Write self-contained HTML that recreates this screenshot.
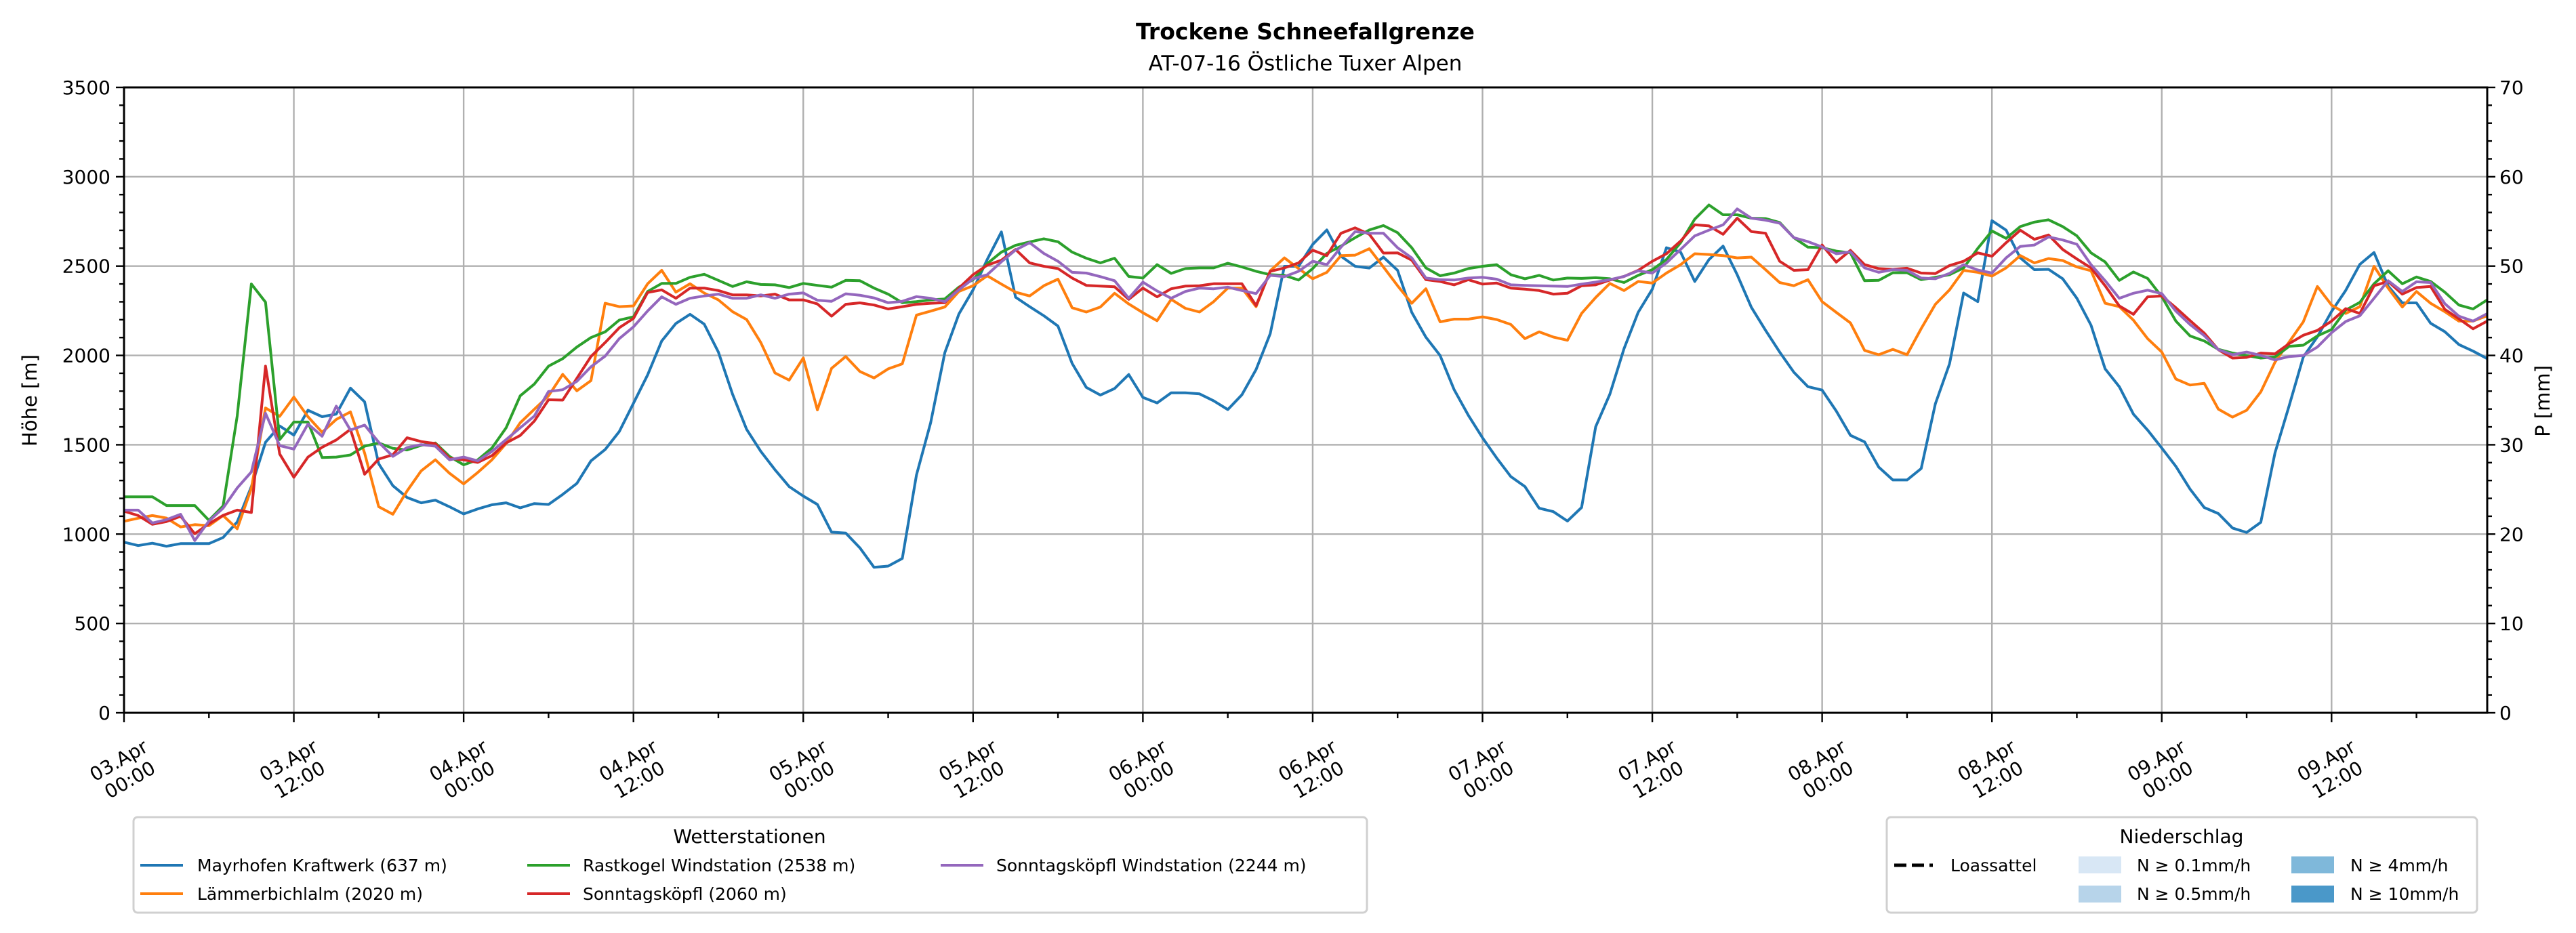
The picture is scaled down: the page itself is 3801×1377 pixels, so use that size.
<!DOCTYPE html>
<html><head><meta charset="utf-8">
<style>
html,body{margin:0;padding:0;background:#fff;}
svg{display:block;font-family:"DejaVu Sans","Liberation Sans",sans-serif;}
</style></head>
<body>
<svg id="chart" width="3801" height="1377" viewBox="0 0 3801 1377" xmlns="http://www.w3.org/2000/svg">
<rect x="0" y="0" width="3801" height="1377" fill="#fff"/>
<text x="1926" y="58" text-anchor="middle" font-size="33" font-weight="bold">Trockene Schneefallgrenze</text>
<text x="1926" y="104" text-anchor="middle" font-size="31">AT-07-16 Östliche Tuxer Alpen</text>
<g id="grid"></g>
<g id="series"></g>
<g id="axes"></g>
<text transform="translate(54,591) rotate(-90)" text-anchor="middle" font-size="29">Höhe [m]</text>
<text transform="translate(3762,592) rotate(-90)" text-anchor="middle" font-size="29">P [mm]</text>

<g>
<rect x="197" y="1206" width="1820" height="141" rx="6" fill="#fff" stroke="#d0d0d0" stroke-width="3"/>
<text x="1106" y="1244" text-anchor="middle" font-size="28">Wetterstationen</text>
<g><line x1="207" y1="1277" x2="270" y2="1277" stroke="#1f77b4" stroke-width="4"/><text x="291" y="1286" font-size="25">Mayrhofen Kraftwerk (637 m)</text></g>
<g><line x1="207" y1="1319" x2="270" y2="1319" stroke="#ff7f0e" stroke-width="4"/><text x="291" y="1328" font-size="25">Lämmerbichlalm (2020 m)</text></g>
<g><line x1="778" y1="1277" x2="841" y2="1277" stroke="#2ca02c" stroke-width="4"/><text x="860" y="1286" font-size="25">Rastkogel Windstation (2538 m)</text></g>
<g><line x1="778" y1="1319" x2="841" y2="1319" stroke="#d62728" stroke-width="4"/><text x="860" y="1328" font-size="25">Sonntagsköpfl (2060 m)</text></g>
<g><line x1="1388" y1="1277" x2="1451" y2="1277" stroke="#9467bd" stroke-width="4"/><text x="1470" y="1286" font-size="25">Sonntagsköpfl Windstation (2244 m)</text></g>
</g>

<g>
<rect x="2784" y="1206" width="871" height="141" rx="6" fill="#fff" stroke="#d0d0d0" stroke-width="3"/>
<text x="3219" y="1244" text-anchor="middle" font-size="28">Niederschlag</text>
<g><line x1="2795" y1="1277" x2="2852" y2="1277" stroke="#000" stroke-width="5" stroke-dasharray="18,8"/><text x="2878" y="1286" font-size="25">Loassattel</text></g>
<g><rect x="3067" y="1264" width="63" height="25" fill="#d8e7f5"/><text x="3153" y="1286" font-size="25">N ≥ 0.1mm/h</text></g>
<g><rect x="3067" y="1307" width="63" height="25" fill="#b7d4ea"/><text x="3153" y="1328" font-size="25">N ≥ 0.5mm/h</text></g>
<g><rect x="3381" y="1264" width="63" height="25" fill="#7fb8da"/><text x="3468" y="1286" font-size="25">N ≥ 4mm/h</text></g>
<g><rect x="3381" y="1307" width="63" height="25" fill="#4a98c9"/><text x="3468" y="1328" font-size="25">N ≥ 10mm/h</text></g>
</g>
</svg>
<script>
const xTickLabels = ["03.Apr|00:00","03.Apr|12:00","04.Apr|00:00","04.Apr|12:00","05.Apr|00:00","05.Apr|12:00","06.Apr|00:00","06.Apr|12:00","07.Apr|00:00","07.Apr|12:00","08.Apr|00:00","08.Apr|12:00","09.Apr|00:00","09.Apr|12:00"];
const yTicks = [0,500,1000,1500,2000,2500,3000,3500];
const pTicks = [0,10,20,30,40,50,60,70];
const mayrhofen = [955,936,949,932,947,947,947,981,1068,1266,1514,1605,1554,1693,1657,1672,1817,1740,1394,1271,1205,1175,1190,1153,1113,1141,1164,1175,1147,
1171,1166,1222,1284,1410,1473,1574,1732,1891,2081,2179,2230,2175,2019,1783,1586,1463,1360,1266,1213,1166,1011,1006,923,814,821,864,
1331,1623,2015,2232,2367,2537,2691,2326,2273,2222,2164,1955,1821,1778,1815,1893,1765,1734,1791,1791,1785,1746,1697,1780,1921,2122,2499,2499,
2621,2702,2555,2499,2489,2550,2476,2241,2102,2000,1808,1665,1539,1426,1322,1266,1145,1126,1073,1149,1601,1783,2038,2241,2371,2603,2578,2414,
2536,2612,2452,2269,2141,2019,1906,1825,1806,1689,1553,1516,1375,1303,1303,1367,1729,1953,2349,2301,2754,2701,2546,2480,2482,2429,2320,2169,
1925,1825,1671,1582,1482,1379,1252,1149,1115,1034,1009,1066,1454,1718,1991,2104,2246,2364,2510,2576,2388,2294,2294,2180,2133,2061,2024,1982];
const laemmerbichl = [1072,1089,1104,1090,1040,1053,1047,1104,1030,1256,1706,1659,1767,1657,1570,1642,1684,1454,1153,1111,1241,1354,1416,1341,1281,1345,1416,1507,1623,
1699,1774,1894,1802,1859,2292,2273,2277,2401,2476,2354,2401,2349,2311,2245,2201,2072,1902,1862,1986,1695,1928,1994,1910,1874,1925,1953,
2226,2248,2271,2358,2390,2446,2399,2354,2333,2390,2427,2267,2243,2271,2348,2288,2239,2194,2314,2264,2243,2301,2377,2377,2273,2474,2546,2486,
2429,2465,2559,2561,2597,2495,2390,2292,2373,2188,2203,2203,2216,2201,2173,2094,2132,2103,2085,2235,2324,2403,2363,2414,2405,2461,2508,2569,
2565,2559,2546,2550,2480,2408,2390,2424,2301,2241,2182,2028,2004,2034,2004,2150,2286,2367,2476,2465,2444,2490,2559,2518,2542,2531,2495,2474,
2292,2273,2197,2094,2019,1868,1834,1844,1699,1655,1693,1796,1962,2075,2188,2386,2282,2235,2273,2499,2377,2271,2358,2292,2245,2192,2192,2222];
const rastkogel = [1209,1209,1209,1160,1160,1160,1077,1158,1661,2400,2298,1529,1627,1627,1429,1431,1443,1492,1510,1480,1471,1497,1510,1435,1388,1416,1482,1595,1774,
1840,1940,1982,2047,2100,2132,2198,2216,2358,2403,2403,2437,2454,2420,2386,2412,2397,2395,2380,2403,2392,2382,2420,2418,2377,2343,2295,
2301,2311,2316,2382,2424,2514,2578,2616,2635,2653,2636,2578,2544,2518,2544,2442,2433,2508,2459,2486,2490,2490,2516,2495,2471,2452,2448,2422,
2486,2571,2612,2659,2702,2727,2687,2603,2490,2446,2461,2486,2499,2508,2452,2429,2448,2422,2433,2431,2435,2429,2408,2448,2480,2537,2631,2763,
2842,2787,2787,2768,2766,2744,2659,2606,2603,2584,2574,2418,2420,2463,2463,2424,2437,2452,2490,2599,2697,2655,2721,2746,2759,2721,2669,2574,
2523,2420,2467,2431,2329,2192,2109,2081,2034,2013,2000,1985,1991,2051,2057,2109,2145,2254,2297,2401,2474,2401,2439,2414,2354,2282,2260,2311];
const sonntagskoepfl = [1128,1104,1055,1070,1100,1002,1058,1105,1134,1121,1940,1448,1318,1431,1486,1527,1586,1335,1420,1444,1539,1518,1507,1424,1416,1401,1439,1510,1552,
1633,1752,1750,1872,1994,2072,2155,2207,2352,2367,2320,2377,2377,2363,2339,2339,2333,2343,2311,2311,2288,2220,2286,2294,2282,2260,2273,
2286,2292,2295,2377,2452,2505,2533,2593,2518,2499,2486,2433,2392,2388,2384,2314,2377,2328,2373,2388,2390,2401,2401,2401,2279,2471,2490,2518,
2589,2559,2684,2714,2678,2573,2574,2533,2424,2414,2395,2424,2399,2405,2377,2371,2363,2343,2348,2390,2395,2422,2442,2476,2527,2569,2640,2731,
2725,2678,2768,2693,2684,2527,2476,2480,2618,2522,2588,2508,2486,2482,2488,2461,2458,2503,2527,2574,2555,2631,2701,2650,2674,2593,2540,2490,
2390,2277,2230,2328,2333,2267,2195,2125,2032,1985,1989,2013,2009,2066,2113,2140,2192,2262,2235,2390,2414,2343,2380,2386,2258,2205,2149,2192];
const sonntagWind = [1134,1134,1062,1081,1111,964,1073,1145,1258,1348,1676,1495,1476,1616,1548,1716,1582,1610,1514,1435,1484,1501,1492,1416,1431,1410,1463,1529,1595,
1661,1798,1808,1855,1936,1996,2094,2160,2249,2328,2286,2320,2333,2343,2320,2320,2339,2320,2343,2350,2309,2303,2345,2337,2322,2295,2303,
2329,2320,2301,2367,2429,2452,2524,2590,2631,2571,2527,2465,2461,2441,2418,2320,2410,2361,2320,2358,2377,2373,2382,2363,2346,2448,2441,2471,
2527,2508,2606,2693,2684,2684,2603,2546,2433,2424,2422,2433,2437,2427,2395,2392,2390,2388,2386,2399,2410,2424,2442,2474,2461,2518,2593,2669,
2701,2731,2820,2768,2757,2740,2659,2637,2607,2569,2580,2490,2465,2480,2476,2433,2429,2459,2508,2478,2461,2546,2610,2618,2663,2646,2622,2508,
2418,2320,2348,2365,2346,2248,2173,2111,2032,2004,2019,2000,1975,1994,2000,2047,2127,2190,2222,2320,2418,2358,2412,2408,2290,2220,2192,2234];

const NS="http://www.w3.org/2000/svg";
const L=183, R=3670, T=129, B=1052, HMAX=167, VMAX=3500, PMAX=70;
function xs(h){return L+(R-L)*h/HMAX;}
function ys(v){return B-(B-T)*v/VMAX;}
function yp(p){return B-(B-T)*p/PMAX;}
function mk(tag,attrs,parent){const e=document.createElementNS(NS,tag);for(const k in attrs)e.setAttribute(k,attrs[k]);parent.appendChild(e);return e;}
const grid=document.getElementById('grid'), axes=document.getElementById('axes'), ser=document.getElementById('series');

yTicks.forEach(v=>{
  const g=mk('line',{x1:L,x2:R,y1:ys(v),y2:ys(v),stroke:'#b0b0b0','stroke-width':2.4},grid);
  
  
});
xTickLabels.forEach((lab,i)=>{
  const x=xs(i*12);
  const g=mk('line',{x1:x,x2:x,y1:T,y2:B,stroke:'#b0b0b0','stroke-width':2.4},grid);
  
  
});

const series=[[mayrhofen,'#1f77b4','line-mayrhofen'],[laemmerbichl,'#ff7f0e','line-laemmerbichlalm'],[rastkogel,'#2ca02c','line-rastkogel'],[sonntagskoepfl,'#d62728','line-sonntagskoepfl'],[sonntagWind,'#9467bd','line-sonntagskoepfl-wind']];
series.forEach(s=>{
  const pts=s[0].map((v,i)=>xs(i).toFixed(1)+','+ys(v).toFixed(1)).join(' ');
  const p=mk('polyline',{points:pts,fill:'none',stroke:s[1],'stroke-width':4,'stroke-linejoin':'round'},ser);
  
  
});

mk('rect',{x:L,y:T,width:R-L,height:B-T,fill:'none',stroke:'#000','stroke-width':3},axes);
for(let v=0;v<=VMAX;v+=100){
  const major=v%500===0;
  mk('line',{x1:L,x2:L-(major?12:7),y1:ys(v),y2:ys(v),stroke:'#000','stroke-width':2.4},axes);
}
yTicks.forEach(v=>{
  const t=mk('text',{x:L-20,y:ys(v)+10,'text-anchor':'end','font-size':28},axes);
  t.textContent=v;
  
  
});
for(let p=0;p<=PMAX;p+=2){
  const major=p%10===0;
  mk('line',{x1:R,x2:R+(major?12:7),y1:yp(p),y2:yp(p),stroke:'#000','stroke-width':2.4},axes);
}
pTicks.forEach(p=>{
  const t=mk('text',{x:R+18,y:yp(p)+10,'font-size':28},axes);
  t.textContent=p;
  
  
});
for(let h=0;h<=HMAX;h+=6){
  const major=h%12===0;
  mk('line',{x1:xs(h),x2:xs(h),y1:B,y2:B+(major?14:8),stroke:'#000','stroke-width':2.4},axes);
}
xTickLabels.forEach((lab,i)=>{
  const cx=xs(i*12), cy=1136;
  const parts=lab.split('|');
  const t=mk('text',{transform:'translate('+cx+','+cy+') rotate(-30)','text-anchor':'middle','font-size':28},axes);
  
  
  mk('tspan',{x:0,y:-6},t).textContent=parts[0];
  mk('tspan',{x:0,y:27},t).textContent=parts[1];
});
</script>
</body></html>
